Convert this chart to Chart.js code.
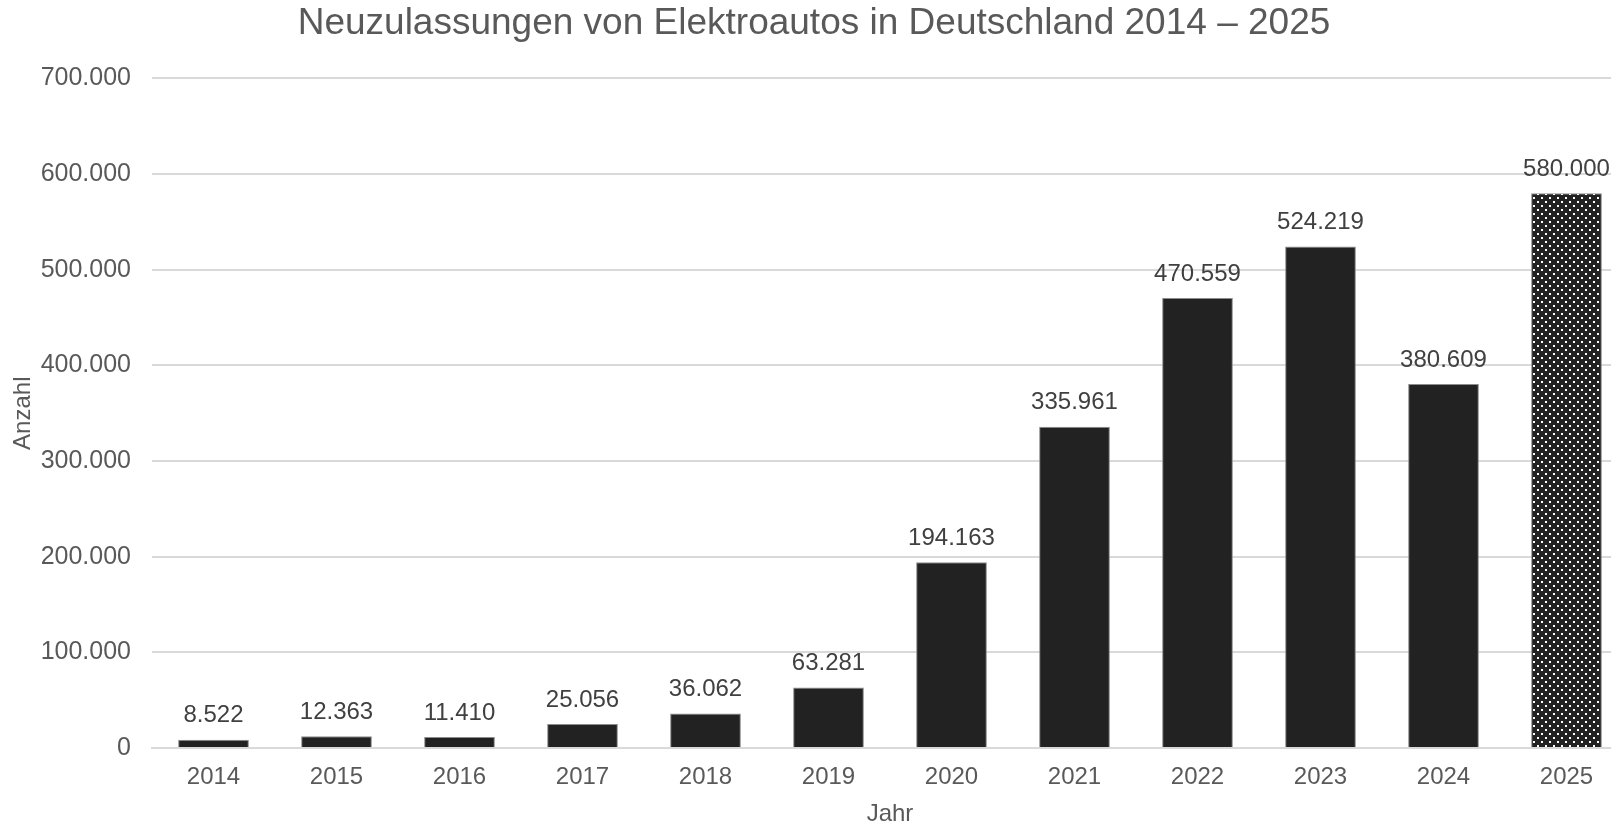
<!DOCTYPE html>
<html lang="de">
<head>
<meta charset="utf-8">
<title>Neuzulassungen von Elektroautos</title>
<script src="https://cdn.jsdelivr.net/npm/chart.js@4.4.1/dist/chart.umd.min.js"></script>
<style>
    html, body { margin: 0; padding: 0; background: #fff; overflow: hidden; }
    #wrap { width: 1632px; height: 824px; }
</style>
</head>
<body>
<div id="wrap"><canvas id="neuzulassungen" width="1632" height="824"></canvas></div>
<script>
// Daten
const jahre = ['2014', '2015', '2016', '2017', '2018', '2019', '2020', '2021', '2022', '2023', '2024', '2025'];
const neuzulassungen = [8522, 12363, 11410, 25056, 36062, 63281, 194163, 335961, 470559, 524219, 380609, 580000];
const yTicks = [0, 100000, 200000, 300000, 400000, 500000, 600000, 700000];

const schrift = "'Liberation Sans', Arial, sans-serif";

// Punktmuster fuer die Prognose 2025
function punktMuster() {
    const c = document.createElement('canvas');
    c.width = 8;
    c.height = 8;
    const g = c.getContext('2d');
    g.fillStyle = '#222222';
    g.fillRect(0, 0, 8, 8);
    g.fillStyle = '#ffffff';
    g.fillRect(1, 1, 2, 2);
    g.fillRect(5, 5, 2, 2);
    return g.createPattern(c, 'repeat');
}

const ctx = document.getElementById('neuzulassungen').getContext('2d');
const farben = jahre.map((j, i) => i === jahre.length - 1 ? punktMuster() : '#222222');

// Werte ueber die Balken schreiben
const wertePlugin = {
    id: 'werte',
    afterDatasetsDraw(chart) {
        const meta = chart.getDatasetMeta(0);
        const c = chart.ctx;
        c.save();
        c.font = '24px ' + schrift;
        c.fillStyle = '#404040';
        c.textAlign = 'center';
        c.textBaseline = 'bottom';
        meta.data.forEach((bar, i) => {
            c.fillText(neuzulassungen[i].toLocaleString('de-DE'), bar.x, bar.y - 12);
        });
        c.restore();
    }
};

const grafik = new Chart(ctx, {
    type: 'bar',
    data: {
        labels: jahre,
        datasets: [{
            label: 'Neuzulassungen',
            data: neuzulassungen,
            backgroundColor: farben,
            borderColor: '#8c8c8c',
            borderWidth: 1,
            barPercentage: 0.575,
            categoryPercentage: 1.0
        }]
    },
    options: {
        responsive: false,
        animation: false,
        locale: 'de-DE',
        layout: { padding: { left: 0, right: 4, top: 0, bottom: 0 } },
        scales: {
            x: {
                afterFit: axis => { axis.height = 76; },
                grid: { display: false, drawTicks: false },
                border: { color: '#d9d9d9', width: 2 },
                ticks: { color: '#595959', font: { family: schrift, size: 24 }, padding: 15 },
                title: { display: true, text: 'Jahr', color: '#595959', font: { family: schrift, size: 24, lineHeight: 0.8 }, padding: { top: 0, bottom: 0 } }
            },
            y: {
                min: 0,
                max: 700000,
                afterFit: axis => { axis.width = 152; },
                afterBuildTicks: axis => { axis.ticks = yTicks.map(v => ({ value: v })); },
                grid: { color: '#d9d9d9', lineWidth: 2, drawTicks: false },
                border: { display: false },
                ticks: {
                    color: '#595959',
                    font: { family: schrift, size: 25 },
                    padding: 21,
                    callback: v => v.toLocaleString('de-DE')
                },
                title: { display: true, text: 'Anzahl', color: '#595959', font: { family: schrift, size: 24 }, padding: { top: 9, bottom: 0 } }
            }
        },
        plugins: {
            legend: { display: false },
            tooltip: { enabled: false },
            title: {
                display: true,
                text: 'Neuzulassungen von Elektroautos in Deutschland 2014 – 2025',
                color: '#595959',
                font: { family: schrift, size: 37, weight: 'normal' },
                padding: { top: 2, bottom: 32 }
            }
        }
    },
    plugins: [wertePlugin]
});
</script>
</body>
</html>
